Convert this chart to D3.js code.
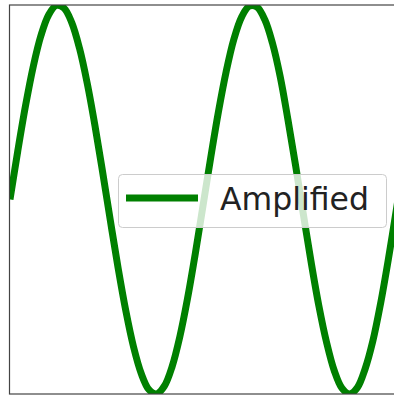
<!DOCTYPE html>
<html><head><meta charset="utf-8">
<script src="https://cdn.jsdelivr.net/npm/d3@7"></script>
<style>html,body{margin:0;padding:0;background:#fff;}svg{display:block;}</style>
</head><body>
<script>
// Data: amplified sine wave sampled over two periods (x in radians)
const xValues = [0,0.25,0.5,0.75,1,1.25,1.5,1.75,2,2.25,2.5,2.75,3,3.25,3.5,3.75,4,4.25,4.5,4.75,5,5.25,5.5,5.75,6,6.25,6.5,6.75,7,7.25,7.5,7.75,8,8.25,8.5,8.75,9,9.25,9.5,9.75,10,10.25,10.5,10.75,11,11.25,11.5,11.75,12,12.25,12.566];
const yValues = [0,0.495,0.959,1.363,1.683,1.898,1.995,1.968,1.819,1.556,1.197,0.763,0.282,-0.216,-0.702,-1.143,-1.514,-1.789,-1.955,-1.999,-1.918,-1.718,-1.411,-1.017,-0.559,-0.066,0.430,0.901,1.314,1.648,1.876,1.988,1.979,1.850,1.608,1.265,0.824,0.348,-0.150,-0.639,-1.088,-1.465,-1.758,-1.939,-2.000,-1.935,-1.743,-1.457,-1.073,-0.622,0];
const seriesName = "Amplified";
const yDomain = [-2, 2];
const xDomain = [0, 12.566];

const W = 394, H = 396;
const svg = d3.select("body").append("svg").attr("width", W).attr("height", H);
const pl = 9.5, pr = 398, pt = 5, pb = 394;
const x = d3.scaleLinear().domain(xDomain).range([pl + 0.5, pr]);
const y = d3.scaleLinear().domain(yDomain).range([pb, pt]);

svg.append("defs").append("clipPath").attr("id","clip")
  .append("rect").attr("x", pl).attr("y", pt).attr("width", pr-pl).attr("height", pb-pt);

const line = d3.line().x((d,i)=>x(xValues[i])).y(d=>y(d)).curve(d3.curveCatmullRom);
svg.append("path").datum(yValues)
  .attr("clip-path","url(#clip)")
  .attr("d", line)
  .attr("fill","none").attr("stroke","#008000").attr("stroke-width",7);

// spines
svg.append("rect").attr("x", pl).attr("y", pt).attr("width", pr-pl).attr("height", pb-pt)
  .attr("fill","none").attr("stroke","#444").attr("stroke-width",1.2);

// legend
const lg = svg.append("g");
lg.append("rect").attr("x",118.5).attr("y",174.5).attr("width",268).attr("height",53).attr("rx",4)
  .attr("fill","#fff").attr("fill-opacity",0.8).attr("stroke","#ccc").attr("stroke-width",1);
lg.append("line").attr("x1",126).attr("x2",198).attr("y1",198).attr("y2",198)
  .attr("stroke","#008000").attr("stroke-width",7);
lg.append("text").attr("x",220).attr("y",210).text(seriesName)
  .attr("font-family","DejaVu Sans").attr("font-size",31.5).attr("fill","#222");
</script>
</body></html>
